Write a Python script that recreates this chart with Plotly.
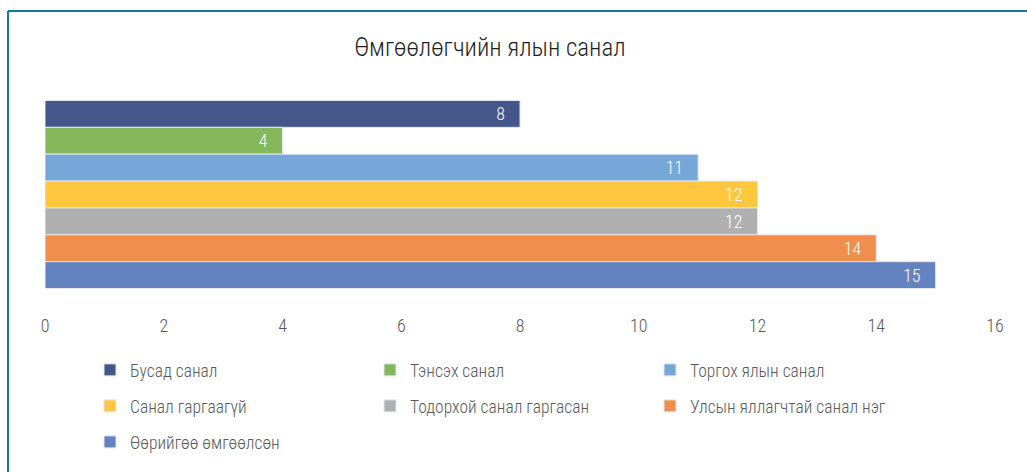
import plotly.graph_objects as go

title = "Өмгөөлөгчийн ялын санал"
series_names = [
    "Бусад санал",
    "Тэнсэх санал",
    "Торгох ялын санал",
    "Санал гаргаагүй",
    "Тодорхой санал гаргасан",
    "Улсын яллагчтай санал нэг",
    "Өөрийгөө өмгөөлсөн",
]
series_values = [8, 4, 11, 12, 12, 14, 15]
colors = ["#44568A", "#86B75B", "#75A7D8", "#FFC73F", "#B0B0B0", "#EF8E4D", "#6482C0"]
category = ["Өмгөөлөгч"]
x_ticks = [0, 2, 4, 6, 8, 10, 12, 14, 16]

FONT = "Roboto Condensed, Roboto, sans-serif"
W, H = 1027, 472
ML, MR, MT, MB = 45, 32, 94.5, 177.5

legend_rows = [0, 0, 0, 1, 1, 1, 2]
legend_ids = ["legend", "legend2", "legend3"]
row_y = [370, 406, 442]

fig = go.Figure()
for name, val, col, row in zip(series_names, series_values, colors, legend_rows):
    fig.add_trace(go.Bar(
        y=category, x=[val], name=name, orientation="h",
        marker=dict(color=col, line=dict(color="#E3E8F0", width=1)),
        text=[val], texttemplate="%{x}\u00a0\u00a0\u00a0", textposition="inside",
        insidetextanchor="end", textangle=0,
        textfont=dict(color="white", size=18, family=FONT, weight=300),
        legend=legend_ids[row], hoverinfo="x+name",
    ))

legend_common = dict(
    orientation="h", xref="container", yref="container",
    x=90 / W, xanchor="left", yanchor="middle",
    font=dict(size=17.5, color="#595959", family=FONT, weight=300),
    entrywidth=235, entrywidthmode="pixels", bgcolor="rgba(0,0,0,0)",
    itemclick=False, itemdoubleclick=False,
)

plot_h = H - MT - MB
def px_to_paper_x(px):
    return (px - ML) / (W - ML - MR)
def px_to_paper_y(py):
    return (H - MB - py) / plot_h

fig.update_layout(
    width=W, height=H,
    margin=dict(l=ML, r=MR, t=MT, b=MB),
    paper_bgcolor="white", plot_bgcolor="white",
    barmode="group", bargap=0.055, bargroupgap=0,
    title=dict(text=title, xref="container", yref="container",
               x=490 / W, y=1 - 47 / H, xanchor="center", yanchor="middle",
               font=dict(size=25, color="#1F1F1F", family=FONT, weight=300)),
    xaxis=dict(range=[0, 16], tickvals=x_ticks, showgrid=False, zeroline=False,
               showline=False, ticks="outside", ticklen=15, tickcolor="rgba(0,0,0,0)",
               tickfont=dict(size=18, color="#595959", family=FONT, weight=300),
               fixedrange=True),
    yaxis=dict(autorange="reversed", showticklabels=False, showgrid=False,
               zeroline=False, showline=False, fixedrange=True),
    legend=dict(legend_common, y=1 - row_y[0] / H),
    legend2=dict(legend_common, y=1 - row_y[1] / H),
    legend3=dict(legend_common, y=1 - row_y[2] / H),
    shapes=[
        dict(type="line", xref="paper", yref="paper",
             x0=px_to_paper_x(8), x1=px_to_paper_x(8),
             y0=px_to_paper_y(10), y1=px_to_paper_y(480),
             line=dict(color="#1479A0", width=2)),
        dict(type="line", xref="paper", yref="paper",
             x0=px_to_paper_x(8), x1=px_to_paper_x(1040),
             y0=px_to_paper_y(10), y1=px_to_paper_y(10),
             line=dict(color="#1479A0", width=2)),
    ],
    showlegend=True,
)

fig.write_html(
    "out.html", config={"displayModeBar": False},
    post_script=(
        "document.body.style.margin='0';"
        "document.body.style.overflow='hidden';"
        "document.documentElement.style.overflow='hidden';"
        "document.head.insertAdjacentHTML('beforeend',"
        "'<style>.scrollbar{display:none !important;}</style>');"
    ),
)
